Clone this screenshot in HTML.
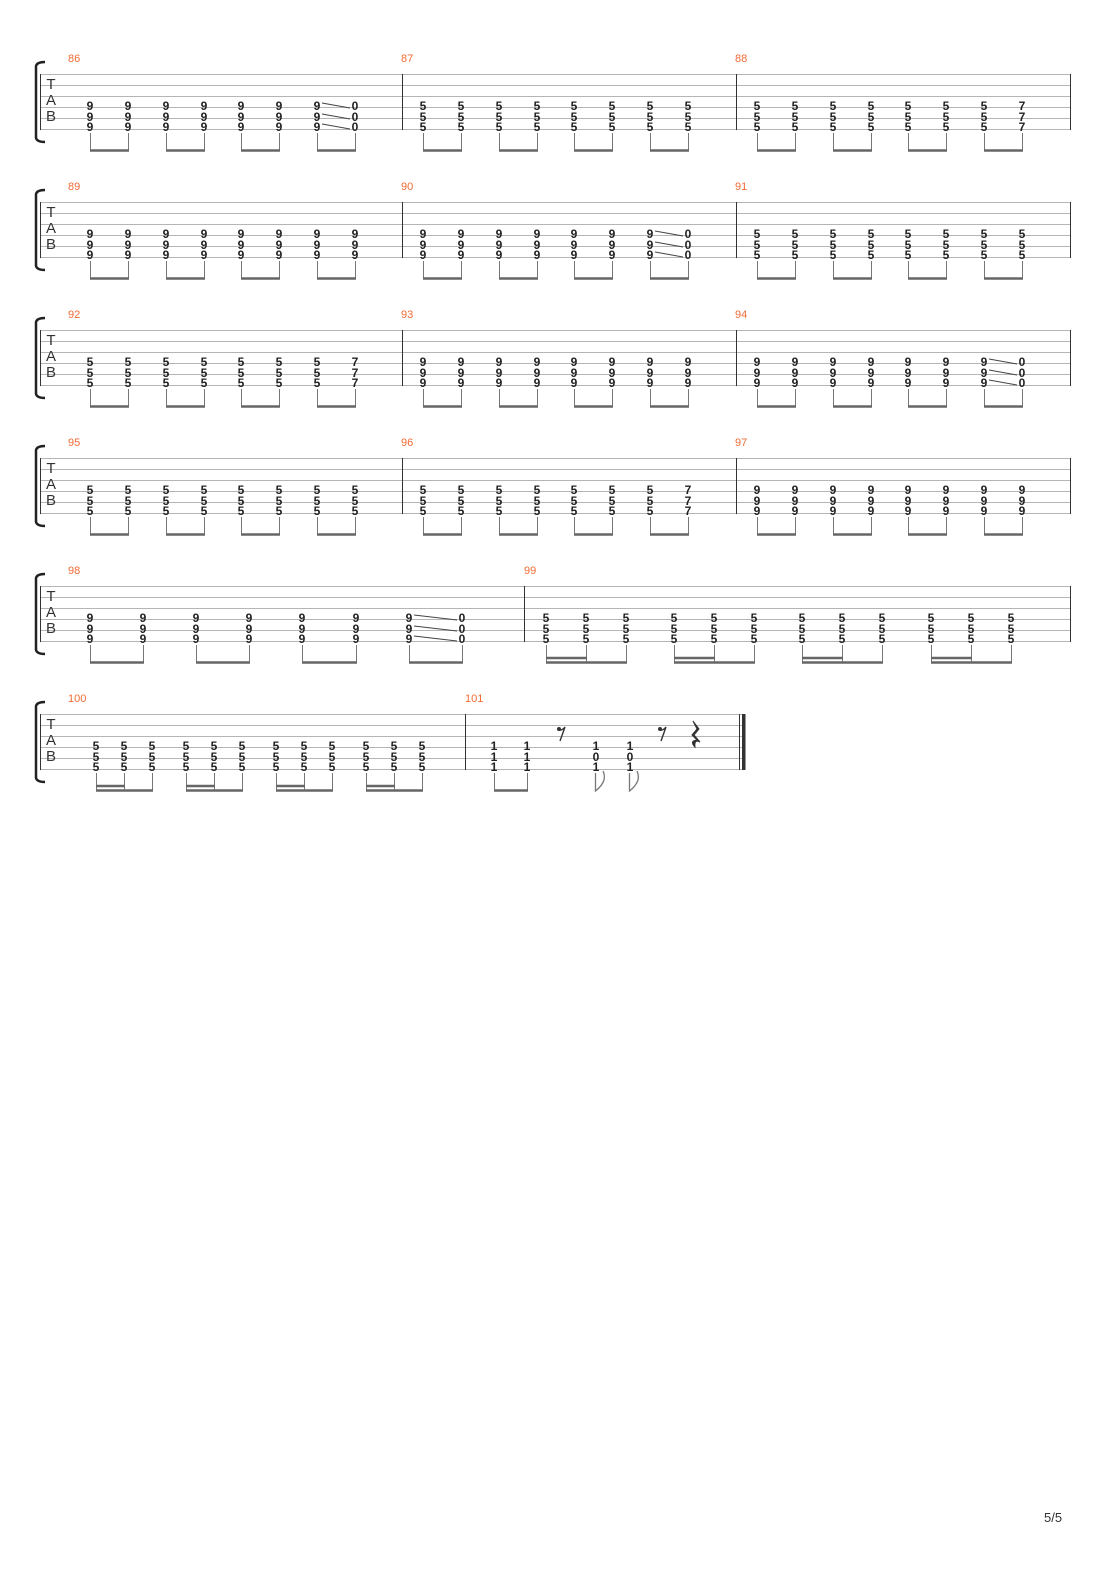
<!DOCTYPE html>
<html><head><meta charset="utf-8"><style>
html,body{margin:0;padding:0;background:#fff;}
svg{display:block;}
.n{font-family:"Liberation Sans",sans-serif;font-size:12px;font-weight:bold;fill:#222;text-anchor:middle;}
.m{font-family:"Liberation Sans",sans-serif;font-size:11px;fill:#f26a35;}
.t{font-family:"Liberation Sans",sans-serif;font-size:15px;fill:#333;text-anchor:middle;}
.st{stroke:#b5b5b5;stroke-width:1;fill:none;}
.bar{stroke:#333;stroke-width:1;}
.stem{stroke:#777;stroke-width:1;fill:none;}
.beam{stroke:#666;stroke-width:2.5;fill:none;}
.sl{stroke:#444;stroke-width:1;}
</style></head><body>
<svg width="1110" height="1570" viewBox="0 0 1110 1570" xmlns="http://www.w3.org/2000/svg">
<defs></defs>

<!-- SYSTEM 1 -->
<g transform="translate(0,0)">
<path class="st" d="M40 74.5H1070M40 85.5H1070M40 96.5H1070M40 107.5H1070M40 118.5H1070M40 129.5H1070"/>
<path d="M45 62 Q37 62 36 66 V138 Q37 142 45 142" stroke="#222" stroke-width="2.5" fill="none"/>
<path class="bar" d="M40.5 74V130M402.5 74V130M736.5 74V130M1070.5 74V130"/>
<text class="t" x="51" y="89">T</text><text class="t" x="51" y="105">A</text><text class="t" x="51" y="121">B</text>
<text class="m" x="68" y="62">86</text><text class="m" x="401" y="62">87</text><text class="m" x="735" y="62">88</text>
<text class="n" x="90 128 166 204 241 279 317 355" y="110">99999990</text>
<text class="n" x="90 128 166 204 241 279 317 355" y="121">99999990</text>
<text class="n" x="90 128 166 204 241 279 317 355" y="131">99999990</text>
<path class="sl" d="M322 103L350 108M322 114L350 119M322 124L350 129"/>
<text class="n" x="423 461 499 537 574 612 650 688" y="110">55555555</text>
<text class="n" x="423 461 499 537 574 612 650 688" y="121">55555555</text>
<text class="n" x="423 461 499 537 574 612 650 688" y="131">55555555</text>
<text class="n" x="757 795 833 871 908 946 984 1022" y="110">55555557</text>
<text class="n" x="757 795 833 871 908 946 984 1022" y="121">55555557</text>
<text class="n" x="757 795 833 871 908 946 984 1022" y="131">55555557</text>
<path class="stem" d="M90.5 133V151M128.5 133V151M166.5 133V151M204.5 133V151M241.5 133V151M279.5 133V151M317.5 133V151M355.5 133V151M423.5 133V151M461.5 133V151M499.5 133V151M537.5 133V151M574.5 133V151M612.5 133V151M650.5 133V151M688.5 133V151M757.5 133V151M795.5 133V151M833.5 133V151M871.5 133V151M908.5 133V151M946.5 133V151M984.5 133V151M1022.5 133V151"/>
<path class="beam" d="M90 150.5H129M166 150.5H205M241 150.5H280M317 150.5H356M423 150.5H462M499 150.5H538M574 150.5H613M650 150.5H689M757 150.5H796M833 150.5H872M908 150.5H947M984 150.5H1023"/>
</g>

<!-- SYSTEM 2 -->
<g transform="translate(0,128)">
<path class="st" d="M40 74.5H1070M40 85.5H1070M40 96.5H1070M40 107.5H1070M40 118.5H1070M40 129.5H1070"/>
<path d="M45 62 Q37 62 36 66 V138 Q37 142 45 142" stroke="#222" stroke-width="2.5" fill="none"/>
<path class="bar" d="M40.5 74V130M402.5 74V130M736.5 74V130M1070.5 74V130"/>
<text class="t" x="51" y="89">T</text><text class="t" x="51" y="105">A</text><text class="t" x="51" y="121">B</text>
<text class="m" x="68" y="62">89</text><text class="m" x="401" y="62">90</text><text class="m" x="735" y="62">91</text>
<text class="n" x="90 128 166 204 241 279 317 355" y="110">99999999</text>
<text class="n" x="90 128 166 204 241 279 317 355" y="121">99999999</text>
<text class="n" x="90 128 166 204 241 279 317 355" y="131">99999999</text>
<text class="n" x="423 461 499 537 574 612 650 688" y="110">99999990</text>
<text class="n" x="423 461 499 537 574 612 650 688" y="121">99999990</text>
<text class="n" x="423 461 499 537 574 612 650 688" y="131">99999990</text>
<path class="sl" d="M655 103L683 108M655 114L683 119M655 124L683 129"/>
<text class="n" x="757 795 833 871 908 946 984 1022" y="110">55555555</text>
<text class="n" x="757 795 833 871 908 946 984 1022" y="121">55555555</text>
<text class="n" x="757 795 833 871 908 946 984 1022" y="131">55555555</text>
<path class="stem" d="M90.5 133V151M128.5 133V151M166.5 133V151M204.5 133V151M241.5 133V151M279.5 133V151M317.5 133V151M355.5 133V151M423.5 133V151M461.5 133V151M499.5 133V151M537.5 133V151M574.5 133V151M612.5 133V151M650.5 133V151M688.5 133V151M757.5 133V151M795.5 133V151M833.5 133V151M871.5 133V151M908.5 133V151M946.5 133V151M984.5 133V151M1022.5 133V151"/>
<path class="beam" d="M90 150.5H129M166 150.5H205M241 150.5H280M317 150.5H356M423 150.5H462M499 150.5H538M574 150.5H613M650 150.5H689M757 150.5H796M833 150.5H872M908 150.5H947M984 150.5H1023"/>
</g>

<!-- SYSTEM 3 -->
<g transform="translate(0,256)">
<path class="st" d="M40 74.5H1070M40 85.5H1070M40 96.5H1070M40 107.5H1070M40 118.5H1070M40 129.5H1070"/>
<path d="M45 62 Q37 62 36 66 V138 Q37 142 45 142" stroke="#222" stroke-width="2.5" fill="none"/>
<path class="bar" d="M40.5 74V130M402.5 74V130M736.5 74V130M1070.5 74V130"/>
<text class="t" x="51" y="89">T</text><text class="t" x="51" y="105">A</text><text class="t" x="51" y="121">B</text>
<text class="m" x="68" y="62">92</text><text class="m" x="401" y="62">93</text><text class="m" x="735" y="62">94</text>
<text class="n" x="90 128 166 204 241 279 317 355" y="110">55555557</text>
<text class="n" x="90 128 166 204 241 279 317 355" y="121">55555557</text>
<text class="n" x="90 128 166 204 241 279 317 355" y="131">55555557</text>
<text class="n" x="423 461 499 537 574 612 650 688" y="110">99999999</text>
<text class="n" x="423 461 499 537 574 612 650 688" y="121">99999999</text>
<text class="n" x="423 461 499 537 574 612 650 688" y="131">99999999</text>
<text class="n" x="757 795 833 871 908 946 984 1022" y="110">99999990</text>
<text class="n" x="757 795 833 871 908 946 984 1022" y="121">99999990</text>
<text class="n" x="757 795 833 871 908 946 984 1022" y="131">99999990</text>
<path class="sl" d="M989 103L1017 108M989 114L1017 119M989 124L1017 129"/>
<path class="stem" d="M90.5 133V151M128.5 133V151M166.5 133V151M204.5 133V151M241.5 133V151M279.5 133V151M317.5 133V151M355.5 133V151M423.5 133V151M461.5 133V151M499.5 133V151M537.5 133V151M574.5 133V151M612.5 133V151M650.5 133V151M688.5 133V151M757.5 133V151M795.5 133V151M833.5 133V151M871.5 133V151M908.5 133V151M946.5 133V151M984.5 133V151M1022.5 133V151"/>
<path class="beam" d="M90 150.5H129M166 150.5H205M241 150.5H280M317 150.5H356M423 150.5H462M499 150.5H538M574 150.5H613M650 150.5H689M757 150.5H796M833 150.5H872M908 150.5H947M984 150.5H1023"/>
</g>

<!-- SYSTEM 4 -->
<g transform="translate(0,384)">
<path class="st" d="M40 74.5H1070M40 85.5H1070M40 96.5H1070M40 107.5H1070M40 118.5H1070M40 129.5H1070"/>
<path d="M45 62 Q37 62 36 66 V138 Q37 142 45 142" stroke="#222" stroke-width="2.5" fill="none"/>
<path class="bar" d="M40.5 74V130M402.5 74V130M736.5 74V130M1070.5 74V130"/>
<text class="t" x="51" y="89">T</text><text class="t" x="51" y="105">A</text><text class="t" x="51" y="121">B</text>
<text class="m" x="68" y="62">95</text><text class="m" x="401" y="62">96</text><text class="m" x="735" y="62">97</text>
<text class="n" x="90 128 166 204 241 279 317 355" y="110">55555555</text>
<text class="n" x="90 128 166 204 241 279 317 355" y="121">55555555</text>
<text class="n" x="90 128 166 204 241 279 317 355" y="131">55555555</text>
<text class="n" x="423 461 499 537 574 612 650 688" y="110">55555557</text>
<text class="n" x="423 461 499 537 574 612 650 688" y="121">55555557</text>
<text class="n" x="423 461 499 537 574 612 650 688" y="131">55555557</text>
<text class="n" x="757 795 833 871 908 946 984 1022" y="110">99999999</text>
<text class="n" x="757 795 833 871 908 946 984 1022" y="121">99999999</text>
<text class="n" x="757 795 833 871 908 946 984 1022" y="131">99999999</text>
<path class="stem" d="M90.5 133V151M128.5 133V151M166.5 133V151M204.5 133V151M241.5 133V151M279.5 133V151M317.5 133V151M355.5 133V151M423.5 133V151M461.5 133V151M499.5 133V151M537.5 133V151M574.5 133V151M612.5 133V151M650.5 133V151M688.5 133V151M757.5 133V151M795.5 133V151M833.5 133V151M871.5 133V151M908.5 133V151M946.5 133V151M984.5 133V151M1022.5 133V151"/>
<path class="beam" d="M90 150.5H129M166 150.5H205M241 150.5H280M317 150.5H356M423 150.5H462M499 150.5H538M574 150.5H613M650 150.5H689M757 150.5H796M833 150.5H872M908 150.5H947M984 150.5H1023"/>
</g>

<!-- SYSTEM 5 -->
<g transform="translate(0,512)">
<path class="st" d="M40 74.5H1070M40 85.5H1070M40 96.5H1070M40 107.5H1070M40 118.5H1070M40 129.5H1070"/>
<path d="M45 62 Q37 62 36 66 V138 Q37 142 45 142" stroke="#222" stroke-width="2.5" fill="none"/>
<path class="bar" d="M40.5 74V130M524.5 74V130M1070.5 74V130"/>
<text class="t" x="51" y="89">T</text><text class="t" x="51" y="105">A</text><text class="t" x="51" y="121">B</text>
<text class="m" x="68" y="62">98</text><text class="m" x="524" y="62">99</text>
<text class="n" x="90 143 196 249 302 356 409 462" y="110">99999990</text>
<text class="n" x="90 143 196 249 302 356 409 462" y="121">99999990</text>
<text class="n" x="90 143 196 249 302 356 409 462" y="131">99999990</text>
<path class="sl" d="M414 103L457 108M414 114L457 119M414 124L457 129"/>
<text class="n" x="546 586 626 674 714 754 802 842 882 931 971 1011" y="110">555555555555</text>
<text class="n" x="546 586 626 674 714 754 802 842 882 931 971 1011" y="121">555555555555</text>
<text class="n" x="546 586 626 674 714 754 802 842 882 931 971 1011" y="131">555555555555</text>
<path class="stem" d="M90.5 133V151M143.5 133V151M196.5 133V151M249.5 133V151M302.5 133V151M356.5 133V151M409.5 133V151M462.5 133V151M546.5 133V151M586.5 133V151M626.5 133V151M674.5 133V151M714.5 133V151M754.5 133V151M802.5 133V151M842.5 133V151M882.5 133V151M931.5 133V151M971.5 133V151M1011.5 133V151"/>
<path class="beam" d="M90 150.5H144M196 150.5H250M302 150.5H357M409 150.5H463M546 150.5H627M674 150.5H755M802 150.5H883M931 150.5H1012M546 146H587M674 146H715M802 146H843M931 146H972"/>
</g>

<!-- SYSTEM 6 -->
<g transform="translate(0,640)">
<path class="st" d="M40 74.5H745M40 85.5H745M40 96.5H745M40 107.5H745M40 118.5H745M40 129.5H745"/>
<path d="M45 62 Q37 62 36 66 V138 Q37 142 45 142" stroke="#222" stroke-width="2.5" fill="none"/>
<path class="bar" d="M40.5 74V130M465.5 74V130M739.5 74V130"/>
<rect x="742" y="74" width="3.5" height="56" fill="#333"/>
<text class="t" x="51" y="89">T</text><text class="t" x="51" y="105">A</text><text class="t" x="51" y="121">B</text>
<text class="m" x="68" y="62">100</text><text class="m" x="465" y="62">101</text>
<text class="n" x="96 124 152 186 214 242 276 304 332 366 394 422" y="110">555555555555</text>
<text class="n" x="96 124 152 186 214 242 276 304 332 366 394 422" y="121">555555555555</text>
<text class="n" x="96 124 152 186 214 242 276 304 332 366 394 422" y="131">555555555555</text>
<path class="stem" d="M96.5 133V151M124.5 133V151M152.5 133V151M186.5 133V151M214.5 133V151M242.5 133V151M276.5 133V151M304.5 133V151M332.5 133V151M366.5 133V151M394.5 133V151M422.5 133V151"/>
<path class="beam" d="M96 150.5H153M186 150.5H243M276 150.5H333M366 150.5H423M96 146H125M186 146H215M276 146H305M366 146H395"/>
<text class="n" x="494 527 596 630" y="110">1111</text>
<text class="n" x="494 527 596 630" y="121">1100</text>
<text class="n" x="494 527 596 630" y="131">1111</text>
<path class="stem" d="M494.5 133V151M527.5 133V151"/>
<path class="beam" d="M494 150.5H528"/>
<path d="M595.5 133V151 Q602 146 604 140 Q605 135 603 131" stroke="#777" stroke-width="1.3" fill="none"/>
<path d="M629.5 133V151 Q636 146 638 140 Q639 135 637 131" stroke="#777" stroke-width="1.3" fill="none"/>
<!-- eighth rests -->
<circle cx="559" cy="89" r="2" fill="#333"/><path d="M558 90 Q562 91 565 87 L560 101" stroke="#333" stroke-width="1.4" fill="none"/>
<circle cx="660" cy="89" r="2" fill="#333"/><path d="M659 90 Q663 91 666 87 L661 101" stroke="#333" stroke-width="1.4" fill="none"/>
<!-- quarter rest -->
<path d="M693 81 L699 89 L694 95 L700 102 Q694 99 695 107 Q689 101 697 100 L692 95 L697 89 Z" fill="#333" stroke="#333" stroke-width="1"/>
</g>

<text x="1044" y="1522" style="font-family:'Liberation Sans',sans-serif;font-size:13px;fill:#333;">5/5</text>
</svg>
</body></html>
